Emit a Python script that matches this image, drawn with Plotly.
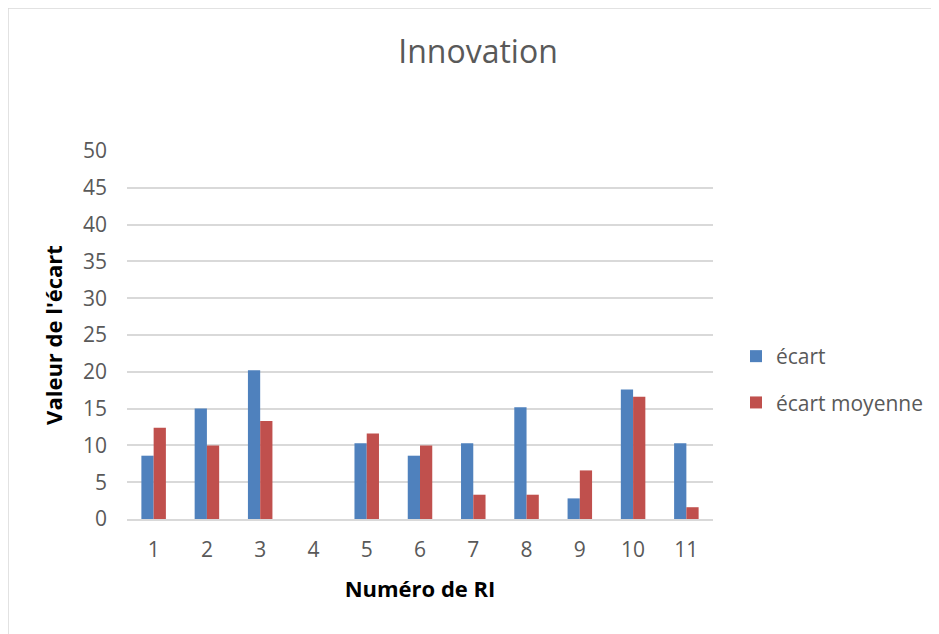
import plotly.graph_objects as go

categories = ["1", "2", "3", "4", "5", "6", "7", "8", "9", "10", "11"]
ecart = [8.6, 15.0, 20.2, None, 10.3, 8.6, 10.3, 15.2, 2.8, 17.6, 10.3]
ecart_moyenne = [12.4, 10.0, 13.3, None, 11.6, 10.0, 3.3, 3.3, 6.6, 16.6, 1.6]
y_ticks = [0, 5, 10, 15, 20, 25, 30, 35, 40, 45, 50]

OFF = 8  # page body margin
W, H = 939 - OFF, 634 - OFF
# plot area in reference pixel coordinates
PX0, PX1, PY0, PY1 = 127, 713, 151, 519
L, T = PX0 - OFF, PY0 - OFF
R, B = W - (PX1 - OFF), H - (PY1 - OFF)
pw, ph = PX1 - PX0, PY1 - PY0

def px_x(x):
    return (x - PX0) / pw

def px_y(y):
    return (PY1 - y) / ph

font_family = "Open Sans, Liberation Sans, sans-serif"

fig = go.Figure()
fig.add_trace(go.Bar(x=categories, y=ecart, name="écart",
                     marker=dict(color="#4F81BD", line=dict(width=0)), legendgroup="a"))
fig.add_trace(go.Bar(x=categories, y=ecart_moyenne, name="écart moyenne",
                     marker=dict(color="#C0504D", line=dict(width=0)), legendgroup="b"))

fig.update_layout(
    width=W, height=H,
    margin=dict(l=L, r=R, t=T, b=B, autoexpand=False),
    paper_bgcolor="white", plot_bgcolor="white",
    barmode="group", bargap=0.54, bargroupgap=0,
    font=dict(family=font_family, color="#595959", size=16),
    title=dict(text="Innovation", x=px_x(478), xanchor="center", xref="paper",
               y=1 - (52 - OFF) / H, yanchor="middle",
               font=dict(size=32, color="#595959", family=font_family)),
    showlegend=True,
    legend=dict(x=px_x(736), y=px_y(336), xanchor="left", yanchor="top",
                font=dict(size=21, color="#595959"), tracegroupgap=16,
                traceorder="grouped", bgcolor="rgba(0,0,0,0)",
                itemwidth=30),
    xaxis=dict(type="category", showgrid=False, showline=True, linecolor="#D9D9D9",
               linewidth=1.5, ticks="", tickfont=dict(size=21, color="#595959"),
               ticklabelstandoff=11,
               title=dict(text="<b>Numéro de RI</b>", font=dict(size=22, color="black"),
                          standoff=20)),
    yaxis=dict(range=[0, 50], tickvals=y_ticks, showgrid=True, gridcolor="#D9D9D9",
               gridwidth=1.5, zeroline=False, ticks="", showline=False,
               tickfont=dict(size=21, color="#595959"), ticklabelstandoff=19,
               title=dict(text="<b>Valeur de l'écart</b>", font=dict(size=22, color="black"),
                          standoff=14)),
    shapes=[dict(type="rect", xref="paper", yref="paper",
                 x0=px_x(8), x1=px_x(960), y0=px_y(660), y1=px_y(8),
                 line=dict(color="#D9D9D9", width=1.5), layer="below")],
)

fig.write_html("out.html")
